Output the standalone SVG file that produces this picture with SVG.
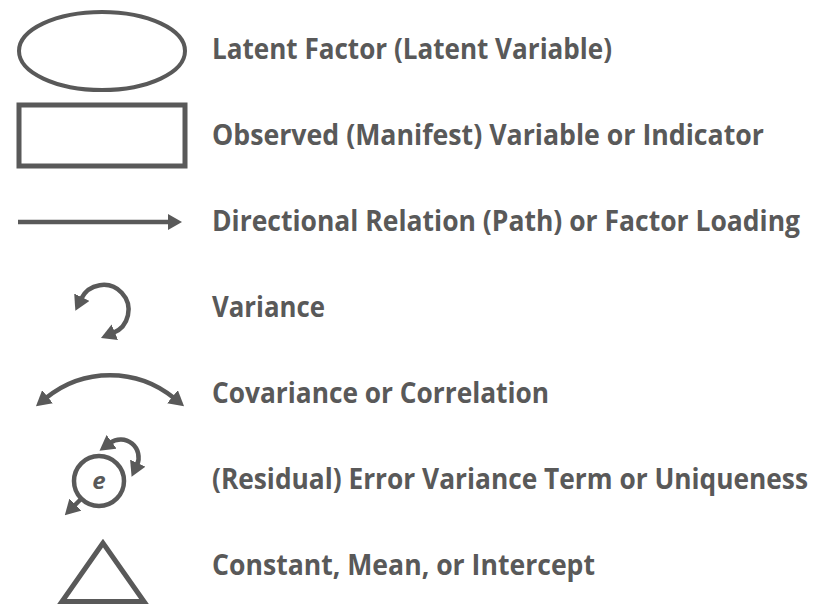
<svg xmlns="http://www.w3.org/2000/svg" width="832" height="614" viewBox="0 0 832 614">
  <style>
    .shape { fill: none; stroke: #595959; }
    .conn { fill: none; stroke: #595959; stroke-width: 4.5; }
    .label { font-family: "Open Sans", "Liberation Sans", sans-serif; font-weight: 700; font-size: 28px; fill: #595959; }
    .e { font-family: "Open Sans", "Liberation Sans", sans-serif; font-weight: 700; font-style: italic; font-size: 24px; fill: #595959; }
  </style>
  <defs>
    <marker id="ah" viewBox="0 0 15 17" refX="2" refY="8.5" markerWidth="15" markerHeight="17" markerUnits="userSpaceOnUse" orient="auto-start-reverse">
      <path d="M0,0 L15,8.5 L0,17 z" fill="#595959"/>
    </marker>
    <marker id="ahs" viewBox="0 0 14 16" refX="2" refY="8" markerWidth="14" markerHeight="16" markerUnits="userSpaceOnUse" orient="auto-start-reverse">
      <path d="M0,0 L14,8 L0,16 z" fill="#595959"/>
    </marker>
  </defs>
  <rect width="832" height="614" fill="#ffffff"/>

  <g id="latent">
    <ellipse class="shape" cx="102" cy="51" rx="83" ry="39" stroke-width="4"/>
    <text class="label" transform="translate(212,59) scale(0.85,1)" textLength="470.6" lengthAdjust="spacingAndGlyphs">Latent Factor (Latent Variable)</text>
  </g>

  <g id="observed">
    <rect class="shape" x="19" y="105" width="166" height="61" stroke-width="5"/>
    <text class="label" transform="translate(212,145) scale(0.85,1)" textLength="649.4" lengthAdjust="spacingAndGlyphs">Observed (Manifest) Variable or Indicator</text>
  </g>

  <g id="path-label">
    <text class="label" transform="translate(212,231) scale(0.85,1)" textLength="691.8" lengthAdjust="spacingAndGlyphs">Directional Relation (Path) or Factor Loading</text>
  </g>

  <g id="variance-label">
    <text class="label" transform="translate(212,317) scale(0.85,1)" textLength="132.9" lengthAdjust="spacingAndGlyphs">Variance</text>
  </g>

  <g id="covariance-label">
    <text class="label" transform="translate(212,403) scale(0.85,1)" textLength="396.5" lengthAdjust="spacingAndGlyphs">Covariance or Correlation</text>
  </g>

  <g id="error">
    <circle class="shape" cx="99" cy="481" r="25" stroke-width="4.5"/>
    <text class="e" x="99" y="489" text-anchor="middle">e</text>
    <text class="label" transform="translate(212,489) scale(0.85,1)" textLength="701.2" lengthAdjust="spacingAndGlyphs">(Residual) Error Variance Term or Uniqueness</text>
  </g>

  <g id="constant">
    <polygon class="shape" points="103,543 62,601.5 144,601.5" stroke-width="5"/>
    <text class="label" transform="translate(212,575) scale(0.85,1)" textLength="450.6" lengthAdjust="spacingAndGlyphs">Constant, Mean, or Intercept</text>
  </g>

  <g id="connectors">
    <line class="conn" x1="18" y1="222" x2="170" y2="222" marker-end="url(#ahs)"/>
    <path class="conn" d="M81,299 A25,25 0 1 1 113,333" marker-start="url(#ah)" marker-end="url(#ah)"/>
    <path class="conn" d="M46,398 A101,101 0 0 1 174,398" marker-start="url(#ah)" marker-end="url(#ah)"/>
    <path class="conn" d="M110,443 A18,18 0 0 1 137,465" marker-start="url(#ah)" marker-end="url(#ah)"/>
    <line class="conn" x1="81" y1="499" x2="74" y2="506" marker-end="url(#ah)"/>
  </g>
</svg>
